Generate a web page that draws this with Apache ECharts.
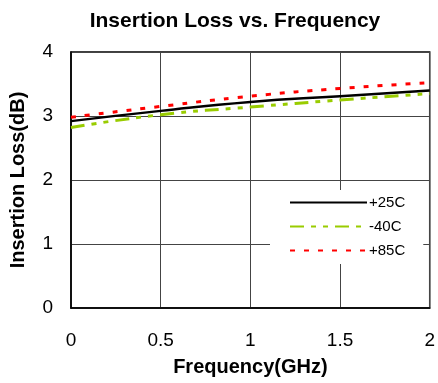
<!DOCTYPE html>
<html><head><meta charset="utf-8">
<script src="https://cdn.jsdelivr.net/npm/echarts@6/dist/echarts.min.js"></script>
<style>html,body{margin:0;padding:0;background:#fff}#c{width:438px;height:383px}</style>
</head><body><div id="c"></div>
<script>
const freq = [0, 0.5, 1, 1.5, 2];
const s25 = [2.92, 3.08, 3.22, 3.31, 3.40];
const sM40 = [2.82, 3.02, 3.14, 3.25, 3.35];
const s85 = [2.98, 3.15, 3.31, 3.43, 3.52];
const names = ['+25C', '-40C', '+85C'];
const toPairs = a => freq.map((f, i) => [f, a[i]]);
const font = '"Liberation Sans", Arial, sans-serif';
const chart = echarts.init(document.getElementById('c'), null, {renderer: 'canvas'});
chart.setOption({
  animation: false,
  title: {text: 'Insertion Loss vs. Frequency', left: 230, textAlign: 'center', top: 6,
    textStyle: {fontFamily: font, fontSize: 21, fontWeight: 'bold', color: '#000'}},
  grid: {left: 71, right: 7, top: 52, bottom: 75, show: true, borderColor: '#000', borderWidth: 1.5, backgroundColor: 'transparent'},
  legend: {orient: 'vertical', left: 270, top: 190, itemWidth: 77, itemHeight: 14, itemGap: 9,
    backgroundColor: '#fff', padding: [5, 18, 6, 19],
    itemStyle: {opacity: 0, color: 'transparent', borderWidth: 0},
    textStyle: {fontFamily: font, fontSize: 15, color: '#000', padding: [0, 0, 0, -3]},
    data: names},
  xAxis: {type: 'value', min: 0, max: 2, interval: 0.5,
    name: 'Frequency(GHz)', nameLocation: 'middle', nameGap: 49,
    nameTextStyle: {fontFamily: font, fontSize: 20, fontWeight: 'bold', color: '#000'},
    axisLine: {show: true, lineStyle: {color: '#000', width: 1.5}},
    axisTick: {show: false},
    axisLabel: {fontFamily: font, fontSize: 19, color: '#000', margin: 23},
    splitLine: {show: true, lineStyle: {color: '#444', width: 1}}},
  yAxis: {type: 'value', min: 0, max: 4, interval: 1,
    name: 'Insertion Loss(dB)', nameLocation: 'middle', nameGap: 43,
    nameTextStyle: {fontFamily: font, fontSize: 20, fontWeight: 'bold', color: '#000'},
    axisLine: {show: true, lineStyle: {color: '#000', width: 1.5}},
    axisTick: {show: false},
    axisLabel: {fontFamily: font, fontSize: 19, color: '#000', margin: 18},
    splitLine: {show: true, lineStyle: {color: '#444', width: 1}}},
  series: [
    {name: names[0], type: 'line', data: toPairs(s25), symbol: 'none', smooth: true,
      lineStyle: {color: '#000', width: 2.5, type: 'solid'}, itemStyle: {color: '#000'}},
    {name: names[1], type: 'line', data: toPairs(sM40), symbol: 'none', smooth: true,
      lineStyle: {color: '#99cc00', width: 3, type: [14, 7, 5, 7, 5, 7]}, itemStyle: {color: '#99cc00'}},
    {name: names[2], type: 'line', data: toPairs(s85), symbol: 'none', smooth: true,
      lineStyle: {color: '#ff0000', width: 3, type: [5, 9]}, itemStyle: {color: '#ff0000'}}
  ]
});
</script></body></html>
